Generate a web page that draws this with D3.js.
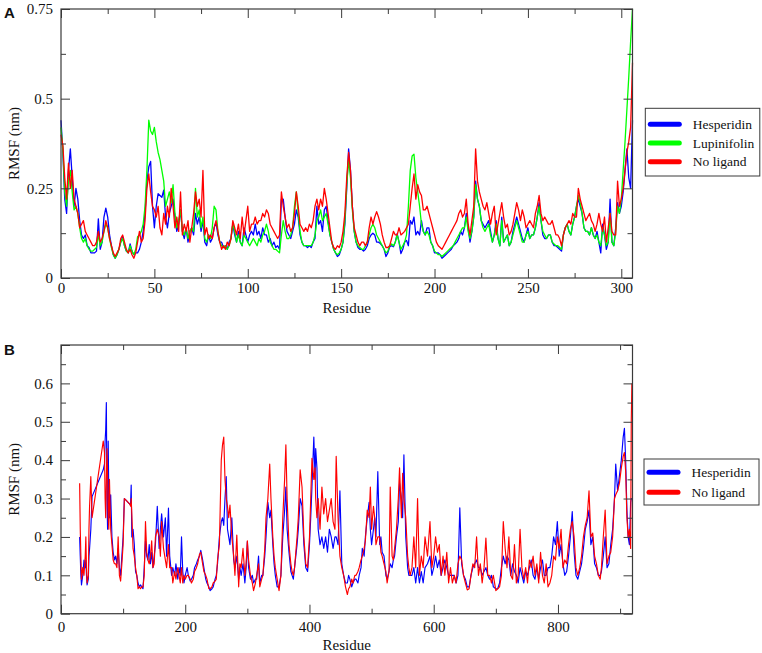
<!DOCTYPE html>
<html><head><meta charset="utf-8">
<script src="https://cdn.jsdelivr.net/npm/d3@7"></script>
<style>body{margin:0;background:#fff}svg{display:block}
svg text{font-family:"Liberation Serif","Times New Roman",Times,serif}
svg text.letter{font-family:"Liberation Sans",Arial,sans-serif;font-weight:bold}</style>
</head><body>
<svg id="c" width="762" height="653"></svg>
<script>
// ---------- Panel A data (residue 0..306) ----------
const residuesA = d3.range(0, 307);
const hesperidinA = [
0.44,0.35,0.22,0.18,0.30,0.36,0.28,0.20,0.25,0.22,
0.16,0.12,0.11,0.12,0.09,0.085,0.07,0.07,0.07,0.075,
0.165,0.08,0.10,0.17,0.195,0.17,0.12,0.09,0.065,0.055,
0.065,0.08,0.10,0.115,0.09,0.075,0.07,0.095,0.075,0.065,
0.07,0.07,0.08,0.10,0.13,0.18,0.27,0.31,0.325,0.20,
0.14,0.20,0.235,0.23,0.225,0.245,0.17,0.14,0.18,0.20,
0.22,0.17,0.13,0.15,0.19,0.13,0.11,0.14,0.10,0.13,
0.14,0.12,0.18,0.15,0.17,0.13,0.16,0.10,0.09,0.12,
0.10,0.11,0.14,0.155,0.12,0.10,0.10,0.085,0.09,0.08,
0.10,0.11,0.15,0.12,0.10,0.13,0.10,0.09,0.14,0.12,
0.10,0.12,0.13,0.12,0.15,0.12,0.13,0.11,0.14,0.12,
0.12,0.10,0.11,0.09,0.10,0.085,0.09,0.08,0.22,0.22,
0.17,0.13,0.12,0.11,0.13,0.15,0.19,0.17,0.12,0.10,
0.09,0.09,0.085,0.09,0.085,0.10,0.11,0.20,0.15,0.16,
0.13,0.19,0.20,0.16,0.12,0.10,0.08,0.07,0.06,0.065,
0.08,0.10,0.15,0.25,0.36,0.30,0.20,0.13,0.10,0.085,
0.08,0.08,0.075,0.08,0.09,0.11,0.12,0.125,0.12,0.10,
0.10,0.096,0.09,0.08,0.06,0.07,0.087,0.09,0.087,0.10,
0.124,0.10,0.068,0.08,0.10,0.105,0.09,0.16,0.15,0.17,
0.12,0.13,0.12,0.16,0.13,0.12,0.14,0.14,0.10,0.09,
0.07,0.07,0.07,0.065,0.055,0.06,0.065,0.07,0.075,0.08,
0.09,0.095,0.10,0.11,0.13,0.12,0.14,0.18,0.14,0.10,
0.13,0.17,0.27,0.22,0.20,0.16,0.15,0.14,0.15,0.16,
0.13,0.10,0.12,0.16,0.11,0.09,0.17,0.10,0.11,0.12,
0.09,0.10,0.13,0.15,0.17,0.15,0.13,0.11,0.10,0.12,
0.14,0.11,0.12,0.12,0.14,0.17,0.21,0.16,0.12,0.11,
0.11,0.12,0.12,0.10,0.09,0.09,0.085,0.08,0.075,0.12,
0.14,0.15,0.13,0.12,0.15,0.17,0.20,0.22,0.20,0.18,
0.14,0.13,0.13,0.12,0.14,0.12,0.11,0.13,0.10,0.07,
0.15,0.12,0.08,0.10,0.22,0.10,0.09,0.14,0.21,0.18,
0.20,0.24,0.30,0.36,0.28,0.25,0.44];
const lupinifolinA = [
0.42,0.36,0.24,0.20,0.27,0.30,0.24,0.19,0.20,0.18,
0.14,0.11,0.10,0.11,0.09,0.08,0.075,0.075,0.08,0.085,
0.12,0.09,0.10,0.13,0.15,0.14,0.11,0.085,0.065,0.055,
0.065,0.08,0.10,0.11,0.09,0.075,0.07,0.09,0.075,0.065,
0.08,0.115,0.12,0.13,0.15,0.20,0.30,0.44,0.41,0.40,
0.42,0.38,0.35,0.33,0.30,0.27,0.20,0.22,0.24,0.21,
0.26,0.18,0.14,0.16,0.19,0.13,0.12,0.14,0.11,0.13,
0.14,0.13,0.25,0.17,0.19,0.14,0.17,0.11,0.10,0.12,
0.11,0.14,0.20,0.19,0.13,0.10,0.09,0.085,0.09,0.08,
0.09,0.11,0.15,0.13,0.10,0.12,0.10,0.09,0.12,0.11,
0.10,0.09,0.10,0.11,0.10,0.09,0.11,0.10,0.12,0.13,
0.15,0.13,0.10,0.09,0.08,0.08,0.075,0.07,0.12,0.16,
0.13,0.11,0.11,0.12,0.14,0.20,0.24,0.18,0.13,0.10,
0.09,0.09,0.09,0.09,0.09,0.10,0.12,0.16,0.17,0.19,
0.16,0.17,0.18,0.15,0.12,0.10,0.08,0.07,0.065,0.07,
0.08,0.10,0.16,0.26,0.33,0.28,0.19,0.13,0.10,0.09,
0.085,0.08,0.08,0.09,0.10,0.12,0.14,0.15,0.14,0.12,
0.11,0.10,0.09,0.08,0.07,0.075,0.09,0.095,0.09,0.10,
0.12,0.10,0.08,0.09,0.10,0.12,0.20,0.30,0.34,0.345,
0.28,0.24,0.20,0.15,0.13,0.12,0.13,0.12,0.10,0.09,
0.075,0.07,0.065,0.065,0.06,0.065,0.07,0.075,0.08,0.085,
0.09,0.10,0.11,0.12,0.13,0.14,0.14,0.17,0.13,0.11,
0.13,0.17,0.26,0.22,0.20,0.16,0.14,0.13,0.14,0.15,
0.12,0.10,0.12,0.15,0.11,0.09,0.16,0.10,0.11,0.12,
0.09,0.10,0.12,0.14,0.16,0.14,0.12,0.10,0.10,0.12,
0.13,0.11,0.12,0.12,0.14,0.17,0.20,0.16,0.13,0.12,
0.11,0.12,0.12,0.10,0.095,0.09,0.09,0.085,0.08,0.12,
0.14,0.15,0.13,0.12,0.15,0.17,0.20,0.23,0.21,0.18,
0.14,0.13,0.13,0.12,0.14,0.12,0.11,0.12,0.10,0.09,
0.14,0.12,0.09,0.10,0.18,0.10,0.09,0.13,0.20,0.18,
0.22,0.30,0.38,0.47,0.56,0.66,0.75];
const noLigandA = [
0.40,0.37,0.28,0.22,0.32,0.25,0.30,0.22,0.20,0.18,
0.14,0.15,0.16,0.13,0.12,0.11,0.10,0.09,0.09,0.10,
0.13,0.10,0.11,0.13,0.16,0.14,0.11,0.09,0.07,0.06,
0.07,0.08,0.11,0.12,0.10,0.08,0.07,0.08,0.065,0.055,
0.07,0.10,0.13,0.10,0.11,0.16,0.25,0.29,0.24,0.20,
0.19,0.17,0.20,0.14,0.12,0.18,0.15,0.20,0.17,0.25,
0.20,0.14,0.17,0.13,0.24,0.12,0.15,0.13,0.16,0.10,
0.14,0.18,0.24,0.20,0.22,0.17,0.30,0.12,0.14,0.11,
0.12,0.11,0.14,0.16,0.13,0.10,0.08,0.09,0.08,0.10,
0.09,0.11,0.16,0.14,0.12,0.15,0.11,0.17,0.12,0.16,
0.20,0.13,0.15,0.15,0.17,0.15,0.16,0.16,0.18,0.17,
0.19,0.18,0.15,0.14,0.13,0.12,0.11,0.12,0.24,0.20,
0.17,0.14,0.15,0.13,0.14,0.18,0.24,0.20,0.15,0.14,
0.13,0.14,0.13,0.15,0.14,0.16,0.20,0.22,0.19,0.22,
0.20,0.25,0.22,0.18,0.14,0.10,0.085,0.08,0.09,0.085,
0.10,0.13,0.18,0.28,0.35,0.30,0.20,0.14,0.12,0.10,
0.09,0.10,0.10,0.09,0.10,0.14,0.17,0.15,0.17,0.185,
0.17,0.15,0.12,0.10,0.085,0.085,0.09,0.11,0.13,0.12,
0.12,0.14,0.12,0.125,0.13,0.14,0.15,0.20,0.25,0.29,
0.22,0.26,0.24,0.23,0.19,0.19,0.20,0.18,0.16,0.14,
0.12,0.10,0.09,0.085,0.08,0.09,0.10,0.11,0.12,0.13,
0.14,0.15,0.16,0.18,0.19,0.17,0.18,0.22,0.15,0.12,
0.16,0.20,0.36,0.27,0.24,0.22,0.20,0.19,0.21,0.18,
0.15,0.18,0.20,0.12,0.15,0.18,0.21,0.17,0.14,0.15,
0.12,0.13,0.15,0.18,0.21,0.19,0.16,0.19,0.17,0.14,
0.15,0.16,0.15,0.14,0.18,0.20,0.23,0.18,0.16,0.17,
0.16,0.15,0.15,0.16,0.14,0.12,0.12,0.11,0.09,0.12,
0.14,0.15,0.16,0.15,0.18,0.17,0.17,0.25,0.22,0.20,
0.18,0.16,0.17,0.18,0.16,0.15,0.13,0.15,0.18,0.15,
0.13,0.17,0.10,0.14,0.18,0.13,0.12,0.12,0.27,0.20,
0.22,0.25,0.30,0.35,0.38,0.42,0.60];

// ---------- Panel B data ----------
const residuesB = [
30,31,32,33,35,37,39,40,41,42,44,45,46,48,50,
68,70,71,72,73,74,75,76,77,78,80,82,84,86,88,90,92,94,96,98,100,
102,105,108,111,112,113,114,116,118,120,122,124,126,128,130,132,134,136,138,140,
142,144,146,148,150,152,155,158,160,162,165,168,170,173,175,178,180,183,185,188,190,192,194,196,198,200,
203,205,208,210,213,215,218,220,223,225,228,230,233,235,238,240,243,245,248,250,252,255,258,260,262,264,266,268,270,272,275,278,280,283,286,288,290,293,296,298,300,
302,305,308,310,313,315,318,320,323,325,328,330,333,336,338,341,343,345,348,351,354,357,360,362,364,367,370,372,374,376,378,380,382,385,388,391,394,397,400,
402,404,407,409,410,412,414,417,420,423,426,429,432,435,438,441,443,446,449,452,455,458,461,463,465,468,470,473,475,478,480,483,485,488,490,493,496,498,500,
503,505,507,510,513,515,517,520,523,525,528,530,533,535,537,540,543,545,548,550,552,555,558,560,562,565,568,571,574,577,580,583,586,590,594,597,600,
603,606,609,612,615,618,621,624,627,630,633,636,639,642,645,648,651,654,657,660,663,666,669,672,675,678,681,684,687,690,693,696,700,
703,706,709,712,715,718,721,724,727,730,733,736,739,742,745,748,751,754,757,760,763,766,769,772,775,778,781,784,787,790,793,796,799,
802,805,808,811,814,817,820,823,826,829,832,835,838,841,844,847,850,853,856,859,862,865,868,870,873,876,879,882,885,888,891,893,896,899,902,905,907,909,911,913,915,917,918,919];
const hesperidinB = [
0.20,0.15,0.10,0.075,0.10,0.14,0.12,0.14,0.10,0.075,0.09,0.15,0.17,0.22,0.305,
0.375,0.39,0.45,0.48,0.55,0.30,0.22,0.45,0.30,0.25,0.31,0.20,0.16,0.14,0.15,0.13,0.17,0.12,0.10,0.15,0.20,
0.30,0.295,0.29,0.285,0.288,0.335,0.20,0.22,0.18,0.11,0.10,0.08,0.07,0.075,0.07,0.065,0.12,0.19,0.15,0.14,
0.18,0.13,0.16,0.12,0.15,0.18,0.28,0.17,0.22,0.26,0.20,0.25,0.15,0.275,0.15,0.10,0.12,0.10,0.13,0.09,0.12,0.10,0.20,0.11,0.08,0.10,
0.12,0.10,0.085,0.09,0.10,0.12,0.13,0.14,0.15,0.165,0.14,0.12,0.09,0.08,0.07,0.06,0.065,0.07,0.09,0.10,0.13,0.20,0.24,0.25,0.23,0.30,0.357,0.22,0.20,0.18,0.25,0.14,0.12,0.15,0.09,0.12,0.10,0.13,0.08,0.12,0.188,
0.12,0.09,0.10,0.08,0.09,0.09,0.15,0.08,0.10,0.10,0.15,0.20,0.29,0.25,0.27,0.18,0.13,0.10,0.07,0.07,0.10,0.20,0.27,0.33,0.22,0.16,0.11,0.10,0.09,0.12,0.15,0.18,0.22,0.30,0.28,0.18,0.12,0.11,0.18,
0.25,0.33,0.46,0.35,0.43,0.38,0.22,0.18,0.20,0.17,0.20,0.16,0.22,0.20,0.17,0.20,0.20,0.18,0.32,0.13,0.10,0.08,0.08,0.10,0.09,0.07,0.08,0.09,0.09,0.08,0.10,0.12,0.17,0.15,0.20,0.25,0.29,0.22,0.18,
0.22,0.25,0.20,0.37,0.18,0.20,0.16,0.15,0.10,0.09,0.11,0.13,0.12,0.14,0.15,0.20,0.24,0.34,0.30,0.25,0.414,0.20,0.12,0.10,0.10,0.10,0.12,0.08,0.12,0.08,0.11,0.08,0.12,0.13,0.15,0.10,0.12,
0.15,0.12,0.14,0.10,0.12,0.14,0.12,0.10,0.10,0.10,0.10,0.08,0.10,0.276,0.13,0.10,0.09,0.07,0.07,0.10,0.12,0.13,0.14,0.12,0.12,0.10,0.11,0.12,0.10,0.09,0.10,0.07,0.065,
0.065,0.08,0.12,0.15,0.13,0.15,0.14,0.10,0.13,0.11,0.10,0.08,0.12,0.10,0.08,0.11,0.10,0.12,0.14,0.10,0.09,0.12,0.09,0.12,0.14,0.10,0.10,0.12,0.12,0.15,0.20,0.18,0.24,
0.15,0.18,0.13,0.10,0.11,0.15,0.20,0.266,0.16,0.10,0.09,0.11,0.13,0.17,0.22,0.24,0.27,0.18,0.20,0.13,0.12,0.10,0.10,0.11,0.15,0.20,0.12,0.13,0.18,0.22,0.30,0.39,0.32,0.36,0.40,0.46,0.483,0.40,0.27,0.20,0.18,0.29,0.30,0.30];
const noLigandB = [
0.34,0.22,0.15,0.09,0.12,0.10,0.15,0.20,0.12,0.08,0.10,0.22,0.28,0.357,0.25,
0.45,0.42,0.30,0.25,0.35,0.43,0.36,0.25,0.22,0.35,0.22,0.18,0.14,0.13,0.13,0.12,0.20,0.10,0.085,0.13,0.18,
0.30,0.295,0.29,0.285,0.28,0.30,0.26,0.17,0.15,0.12,0.10,0.065,0.07,0.065,0.07,0.07,0.10,0.24,0.16,0.14,
0.13,0.15,0.19,0.12,0.13,0.20,0.22,0.20,0.15,0.24,0.17,0.14,0.12,0.18,0.12,0.12,0.08,0.11,0.09,0.12,0.10,0.08,0.12,0.08,0.10,0.09,
0.10,0.10,0.09,0.08,0.09,0.11,0.12,0.13,0.155,0.16,0.13,0.11,0.10,0.09,0.065,0.065,0.07,0.08,0.085,0.09,0.14,0.18,0.40,0.44,0.46,0.35,0.30,0.28,0.25,0.283,0.20,0.15,0.10,0.205,0.07,0.13,0.12,0.17,0.10,0.13,0.19,
0.14,0.10,0.08,0.06,0.08,0.10,0.13,0.07,0.09,0.10,0.17,0.25,0.30,0.39,0.30,0.20,0.15,0.12,0.09,0.06,0.10,0.25,0.35,0.44,0.30,0.18,0.13,0.11,0.10,0.12,0.16,0.20,0.25,0.375,0.33,0.20,0.13,0.12,0.20,
0.30,0.405,0.35,0.38,0.30,0.25,0.30,0.22,0.33,0.26,0.30,0.24,0.27,0.30,0.24,0.22,0.41,0.25,0.15,0.12,0.10,0.07,0.05,0.065,0.07,0.09,0.08,0.10,0.10,0.11,0.12,0.14,0.15,0.17,0.19,0.27,0.25,0.33,0.22,
0.28,0.25,0.18,0.20,0.20,0.16,0.15,0.13,0.11,0.08,0.11,0.33,0.15,0.14,0.17,0.22,0.30,0.38,0.25,0.366,0.30,0.25,0.15,0.12,0.10,0.12,0.20,0.12,0.30,0.10,0.15,0.12,0.20,0.15,0.24,0.12,0.15,
0.20,0.16,0.18,0.10,0.15,0.10,0.16,0.08,0.12,0.08,0.10,0.08,0.13,0.15,0.14,0.10,0.08,0.062,0.065,0.10,0.13,0.12,0.20,0.10,0.13,0.08,0.12,0.197,0.10,0.10,0.08,0.10,0.06,
0.065,0.07,0.10,0.24,0.17,0.12,0.20,0.10,0.09,0.18,0.08,0.10,0.22,0.12,0.09,0.12,0.08,0.14,0.12,0.15,0.10,0.13,0.08,0.16,0.10,0.08,0.13,0.07,0.08,0.10,0.15,0.14,0.20,
0.17,0.22,0.12,0.14,0.13,0.18,0.22,0.24,0.20,0.12,0.10,0.12,0.15,0.20,0.23,0.25,0.32,0.20,0.21,0.15,0.13,0.10,0.09,0.12,0.20,0.27,0.13,0.15,0.16,0.20,0.30,0.31,0.32,0.34,0.38,0.41,0.42,0.37,0.25,0.20,0.22,0.17,0.50,0.60];

// ---------- ticks / labels ----------
const xMajorA = [0,50,100,150,200,250,300];
const xMinorA = [25,75,125,175,225,275];
const yMajorA = [0,0.25,0.5,0.75];
const yMinorA = [0.125,0.375,0.625];
const xMajorB = [0,200,400,600,800];
const xMinorB = [100,300,500,700,900];
const yMajorB = [0,0.1,0.2,0.3,0.4,0.5,0.6,0.7];
const yLabelsB = [0,0.1,0.2,0.3,0.4,0.5,0.6];
const yMinorB = [0.05,0.15,0.25,0.35,0.45,0.55,0.65];
const namesA = ["Hesperidin","Lupinifolin","No ligand"];
const namesB = ["Hesperidin","No ligand"];
const COLORS = {"Hesperidin":"#0000ff","Lupinifolin":"#00ff00","No ligand":"#ff0000"};

const svg = d3.select("#c");
const SERIF = "'Liberation Serif','Times New Roman',Times,serif";
const FRAME = "#3a3a3a";

function drawPanel(o){
  const g = svg.append("g");
  const x = d3.scaleLinear().domain(o.xDomain).range([o.left,o.right]);
  const y = d3.scaleLinear().domain(o.yDomain).range([o.bottom,o.top]);
  o.series.forEach(s=>{
    const line = d3.line().x((d,i)=>x(o.residues[i])).y(d=>y(d));
    g.append("path").datum(s.values).attr("d",line)
      .attr("fill","none").attr("stroke",COLORS[s.name])
      .attr("stroke-width",o.lw).attr("stroke-linejoin","round");
  });
  const style = sel=>{ sel.attr("font-family",null).attr("font-size",null);
    sel.select(".domain").remove();
    sel.selectAll("line").attr("stroke",FRAME).attr("stroke-width",1);
    sel.selectAll("text").style("font-family",SERIF).style("font-size","15px").attr("fill","#111"); };
  g.append("g").attr("transform",`translate(0,${o.bottom})`)
    .call(d3.axisBottom(x).tickValues(o.xMajor).tickSize(-9).tickPadding(o.xPad).tickFormat(d=>String(d))).call(style);
  g.append("g").attr("transform",`translate(0,${o.bottom})`)
    .call(d3.axisBottom(x).tickValues(o.xMinor).tickSize(-5).tickFormat("")).call(style);
  g.append("g").attr("transform",`translate(0,${o.top})`)
    .call(d3.axisTop(x).tickValues(o.xMajor).tickSize(-9).tickFormat("")).call(style);
  g.append("g").attr("transform",`translate(0,${o.top})`)
    .call(d3.axisTop(x).tickValues(o.xMinor).tickSize(-5).tickFormat("")).call(style);
  g.append("g").attr("transform",`translate(${o.left},0)`)
    .call(d3.axisLeft(y).tickValues(o.yMajor).tickSize(-9).tickPadding(8)
      .tickFormat(d=>o.yLabels.includes(d)?String(d):"")).call(style);
  g.append("g").attr("transform",`translate(${o.left},0)`)
    .call(d3.axisLeft(y).tickValues(o.yMinor).tickSize(-5).tickFormat("")).call(style);
  g.append("g").attr("transform",`translate(${o.right},0)`)
    .call(d3.axisRight(y).tickValues(o.yMajor).tickSize(-9).tickFormat("")).call(style);
  g.append("g").attr("transform",`translate(${o.right},0)`)
    .call(d3.axisRight(y).tickValues(o.yMinor).tickSize(-5).tickFormat("")).call(style);
  g.append("rect").attr("x",o.left).attr("y",o.top).attr("width",o.right-o.left).attr("height",o.bottom-o.top)
    .attr("fill","none").attr("stroke",FRAME).attr("stroke-width",1.2);
  g.append("text").attr("x",(o.left+o.right)/2).attr("y",o.xTitleY).attr("text-anchor","middle")
    .style("font-family",SERIF).style("font-size","15px").attr("fill","#111").text("Residue");
  g.append("text").attr("transform",`translate(19,${(o.top+o.bottom)/2}) rotate(-90)`).attr("text-anchor","middle")
    .style("font-family",SERIF).style("font-size","15px").attr("fill","#111").text("RMSF (nm)");
  g.append("text").attr("class","letter").attr("x",4).attr("y",o.letterY)
    .style("font-size","15px").attr("fill","#111").text(o.letter);
  // legend
  const L = o.legend;
  const lg = g.append("g");
  lg.append("rect").attr("x",L.x).attr("y",L.y).attr("width",L.w).attr("height",L.h)
    .attr("fill","#fff").attr("stroke",FRAME).attr("stroke-width",1);
  o.series.forEach((s,i)=>{
    const yy = L.y0 + i*L.dy;
    lg.append("line").attr("x1",L.x+5).attr("x2",L.x+34).attr("y1",yy).attr("y2",yy)
      .attr("stroke",COLORS[s.name]).attr("stroke-width",5).attr("stroke-linecap","round");
    lg.append("text").attr("x",L.x+47.5).attr("y",yy+4.5)
      .style("font-family",SERIF).style("font-size","13.5px")
      .attr("fill","#111").text(s.name);
  });
}

drawPanel({
  left:61, right:632.5, top:9, bottom:278, xDomain:[0,306], yDomain:[0,0.75],
  residues:residuesA, lw:1.3,
  series:[{name:namesA[0],values:hesperidinA},{name:namesA[1],values:lupinifolinA},{name:namesA[2],values:noLigandA}],
  xMajor:xMajorA, xMinor:xMinorA, yMajor:yMajorA, yLabels:yMajorA, yMinor:yMinorA,
  xPad:4, xTitleY:313, letter:"A", letterY:18,
  legend:{x:645.3,y:108.3,w:114.5,h:67.7,y0:124.3,dy:18.7}
});
drawPanel({
  left:61, right:632.5, top:345, bottom:613.7, xDomain:[0,920], yDomain:[0,0.7],
  residues:residuesB, lw:1.15,
  series:[{name:namesB[0],values:hesperidinB},{name:namesB[1],values:noLigandB}],
  xMajor:xMajorB, xMinor:xMinorB, yMajor:yMajorB, yLabels:yLabelsB, yMinor:yMinorB,
  xPad:7.5, xTitleY:650, letter:"B", letterY:355,
  legend:{x:644,y:459,w:115,h:46,y0:472.3,dy:20}
});
</script>
</body></html>
